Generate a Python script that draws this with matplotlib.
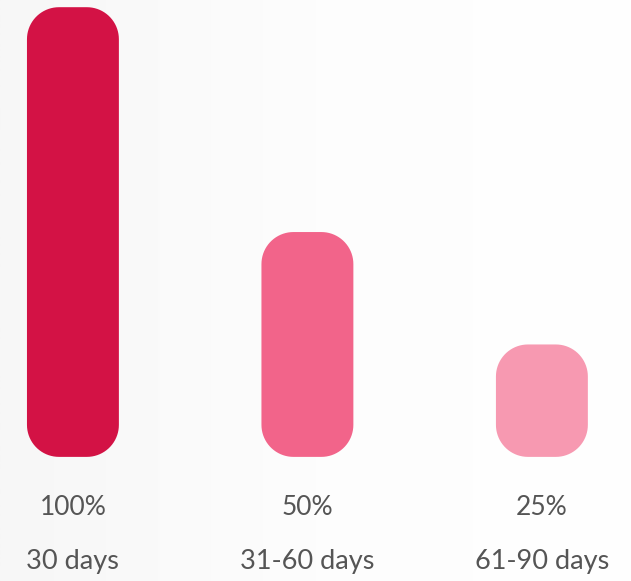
import numpy as np
import matplotlib.pyplot as plt
from matplotlib.patches import PathPatch
from matplotlib.path import Path
from matplotlib.colors import LinearSegmentedColormap

# Data
categories = ["30 days", "31-60 days", "61-90 days"]
values = [100, 50, 25]
pct_labels = ["100%", "50%", "25%"]
colors = ["#D31245", "#F2648A", "#F799B1"]

fig = plt.figure(figsize=(6.31, 5.81), dpi=100)

# soft background gradient (light grey on the left, white on the right)
bg = fig.add_axes([0, 0, 1, 1], zorder=0)
grad = np.linspace(0, 1, 256).reshape(1, -1)
cmap = LinearSegmentedColormap.from_list("bg", ["#f7f7f7", "#fdfdfd", "#ffffff"])
bg.imshow(grad, aspect="auto", cmap=cmap, extent=[0, 1, 0, 1])
bg.axis("off")

ax = fig.add_axes([0, 0, 1, 1], zorder=1)
ax.patch.set_alpha(0)
ax.set_xlim(-0.311, 2.38)
ax.set_ylim(-27.6, 101.6)
ax.axis("off")

x = np.arange(len(categories))
bars = ax.bar(x, values, width=0.392, color=colors)

# pixel size of one data unit in x and y, so the corners come out circular
fig.canvas.draw()
p0 = ax.transData.transform((0, 0))
p1 = ax.transData.transform((1, 1))
px_x = p1[0] - p0[0]
px_y = p1[1] - p0[1]
radius_px = 32


def rounded_rect(x0, y0, w, h, rx, ry):
    t = np.linspace(0, np.pi / 2, 20)
    pts = []
    # bottom-right, top-right, top-left, bottom-left corners
    for cx, cy, a0 in [(x0 + w - rx, y0 + ry, -np.pi / 2),
                       (x0 + w - rx, y0 + h - ry, 0),
                       (x0 + rx, y0 + h - ry, np.pi / 2),
                       (x0 + rx, y0 + ry, np.pi)]:
        pts += list(zip(cx + rx * np.cos(a0 + t), cy + ry * np.sin(a0 + t)))
    pts.append(pts[0])
    codes = [Path.MOVETO] + [Path.LINETO] * (len(pts) - 2) + [Path.CLOSEPOLY]
    return Path(pts, codes)


for bar in bars:
    bx, by = bar.get_x(), bar.get_y()
    bw, bh = bar.get_width(), bar.get_height()
    bar.set_visible(False)
    r = min(radius_px, bh * px_y / 2, bw * px_x / 2)
    path = rounded_rect(bx, by, bw, bh, r / px_x, r / px_y)
    ax.add_patch(PathPatch(path, facecolor=bar.get_facecolor(),
                           edgecolor="none"))

for xi, pct, cat in zip(x, pct_labels, categories):
    ax.text(xi, -11.3, pct, ha="center", va="center", fontsize=19,
            color="#555555", family="Lato")
    ax.text(xi, -23.3, cat, ha="center", va="center", fontsize=19.5,
            color="#555555", family="Lato")

fig.savefig("out.png", dpi=100)
